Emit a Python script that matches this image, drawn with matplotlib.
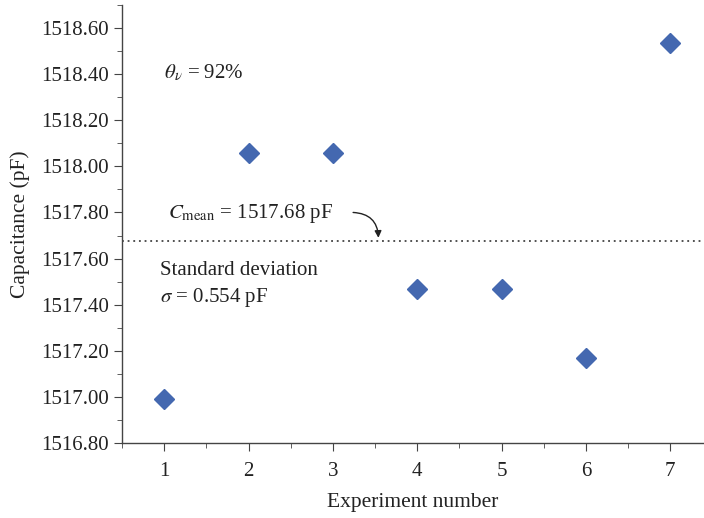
import matplotlib.pyplot as plt
import numpy as np
from matplotlib.ticker import MultipleLocator, FormatStrFormatter

plt.rcParams['font.family'] = ['Liberation Serif', 'DejaVu Serif']
plt.rcParams['mathtext.fontset'] = 'stix'

experiment = [1, 2, 3, 4, 5, 6, 7]
capacitance = [1516.99, 1518.06, 1518.06, 1517.47, 1517.47, 1517.17, 1518.535]
c_mean = 1517.675

fig = plt.figure(figsize=(7.04, 5.18), dpi=100)
ax = fig.add_axes([0.1733, 0.1448, 0.8267, 0.8456])

ax.plot(experiment, capacitance, linestyle='none', marker='D', markersize=10,
        color='#4468b0', markeredgecolor='#4468b0')
ax.axhline(c_mean, color='#222222', linestyle=(0, (1.2, 2.5)), linewidth=1.1)

ax.set_xlim(0.5, 7.4)
ax.set_ylim(1516.80, 1518.70)
ax.xaxis.set_major_locator(MultipleLocator(1))
ax.xaxis.set_minor_locator(MultipleLocator(0.5))
ax.yaxis.set_major_locator(MultipleLocator(0.2))
ax.yaxis.set_minor_locator(MultipleLocator(0.1))
ax.yaxis.set_major_formatter(FormatStrFormatter('%.2f'))

for side in ['top', 'right']:
    ax.spines[side].set_visible(False)
for side in ['left', 'bottom']:
    ax.spines[side].set_color('#444444')
    ax.spines[side].set_linewidth(1.0)

ax.tick_params(which='major', direction='out', length=6, color='#444444',
               labelsize=15, labelcolor='#222222')
ax.tick_params(which='minor', direction='out', length=3.5, color='#444444')
ax.tick_params(axis='x', pad=8)

ax.set_xlabel('Experiment number', fontsize=15.5, color='#222222', labelpad=8)
ax.set_ylabel('Capacitance (pF)', fontsize=15.5, color='#222222', labelpad=8)

ax.text(1.0, 1518.405, r'$\theta_\nu$ = 92%', fontsize=15, va='center', color='#222222')
ax.text(1.05, 1517.795, r'$C_{\mathrm{mean}}$ = 1517.68 pF', fontsize=15, va='center',
        color='#222222')
ax.annotate('', xy=(3.54, 1517.69), xytext=(3.24, 1517.80),
            arrowprops=dict(arrowstyle='-|>', color='#222222', lw=1.0,
                            connectionstyle='arc3,rad=-0.45', shrinkA=0, shrinkB=0,
                            mutation_scale=10))
ax.text(0.95, 1517.55, 'Standard deviation', fontsize=15, va='center', color='#222222')
ax.text(0.95, 1517.43, r'$\sigma$ = 0.554 pF', fontsize=15, va='center', color='#222222')

plt.savefig('out.png', dpi=100)
